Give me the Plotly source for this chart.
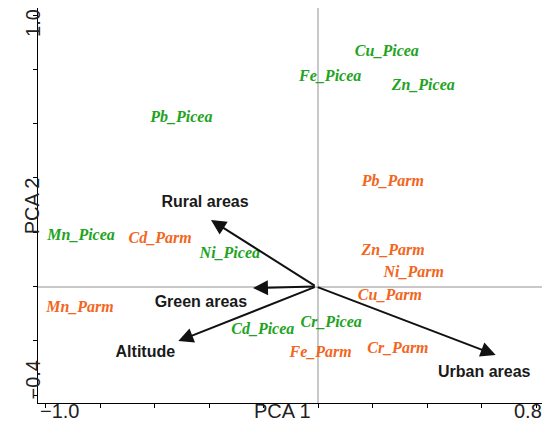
import plotly.graph_objects as go

# sample scores (PCA 1, PCA 2)
picea_labels = ["Cu_Picea", "Fe_Picea", "Zn_Picea", "Pb_Picea",
                "Mn_Picea", "Ni_Picea", "Cd_Picea", "Cr_Picea"]
picea_x = [0.2525, 0.0445, 0.386, -0.502, -0.870, -0.324, -0.203, 0.048]
picea_y = [0.865, 0.773, 0.740, 0.620, 0.186, 0.120, -0.160, -0.136]

parm_labels = ["Pb_Parm", "Cd_Parm", "Zn_Parm", "Ni_Parm",
               "Cu_Parm", "Mn_Parm", "Fe_Parm", "Cr_Parm"]
parm_x = [0.2745, -0.580, 0.2755, 0.351, 0.2636, -0.874, 0.0096, 0.293]
parm_y = [0.386, 0.175, 0.132, 0.0486, -0.034, -0.080, -0.246, -0.231]

# environmental vectors
vec_names = ["Rural areas", "Green areas", "Altitude", "Urban areas"]
vec_x = [-0.393, -0.239, -0.513, 0.652]
vec_y = [0.245, -0.0055, -0.201, -0.252]
vec_label_x = [-0.415, -0.430, -0.634, 0.610]
vec_label_y = [0.308, -0.060, -0.245, -0.3175]
origin = (-0.007, 0.0)

x_ticks = [-1.0, -0.8, -0.6, -0.4, -0.2, 0.0, 0.2, 0.4, 0.6, 0.8]
y_ticks = [-0.4, -0.2, 0.0, 0.2, 0.4, 0.6, 0.8, 1.0]

GREEN = "#22a322"
ORANGE = "#f2661e"
species_font = dict(family="Liberation Serif, Times New Roman, serif", size=16)

fig = go.Figure()

fig.add_trace(go.Scatter(
    x=picea_x, y=picea_y, text=picea_labels, mode="text",
    textposition="middle center",
    textfont=dict(color=GREEN, weight="bold", style="italic", **species_font),
    hoverinfo="skip", showlegend=False))

fig.add_trace(go.Scatter(
    x=parm_x, y=parm_y, text=parm_labels, mode="text",
    textposition="middle center",
    textfont=dict(color=ORANGE, weight="bold", style="italic", **species_font),
    hoverinfo="skip", showlegend=False))

# arrow labels
fig.add_trace(go.Scatter(
    x=vec_label_x, y=vec_label_y, text=vec_names, mode="text",
    textposition="middle center",
    textfont=dict(family="Liberation Sans, Arial, sans-serif", size=16,
                  color="#1a1a1a", weight="bold"),
    hoverinfo="skip", showlegend=False))

annotations = []
for vx, vy in zip(vec_x, vec_y):
    annotations.append(dict(
        x=vx, y=vy, ax=origin[0], ay=origin[1],
        xref="x", yref="y", axref="x", ayref="y",
        text="", showarrow=True, arrowhead=2, arrowsize=1.5,
        arrowwidth=2, arrowcolor="#111111", standoff=0))

axis_font = dict(family="Liberation Sans, Arial, sans-serif", size=20, color="#222222")
# end tick labels and axis titles, placed like the original
annotations += [
    dict(x=x_ticks[0], y=-0.053, xref="x", yref="paper", text="−1.0",
         showarrow=False, xshift=14, font=axis_font),
    dict(x=x_ticks[-1], y=-0.053, xref="x", yref="paper", text="0.8",
         showarrow=False, xshift=-8, font=axis_font),
    dict(x=0.486, y=-0.053, xref="paper", yref="paper", text="PCA 1",
         showarrow=False, font=axis_font),
    dict(x=-0.036, y=y_ticks[-1], xref="paper", yref="y", text="1.0",
         showarrow=False, yshift=-8, textangle=-90, font=axis_font),
    dict(x=-0.035, y=y_ticks[0], xref="paper", yref="y", text="−0.4",
         showarrow=False, yshift=15, textangle=-90, font=axis_font),
    dict(x=-0.038, y=0.5, xref="paper", yref="paper", text="PCA 2",
         showarrow=False, textangle=-90, font=axis_font),
]

axis_common = dict(
    showline=True, linecolor="black", linewidth=1, mirror=True,
    ticks="outside", ticklen=4, tickwidth=1, tickcolor="black",
    showgrid=False, zeroline=True, zerolinecolor="#c8c8c8", zerolinewidth=1.5,
    automargin=False,
)

# the page body adds an 8px margin, so the figure is 8px smaller than the window
fig.update_layout(
    width=542, height=430,
    margin=dict(l=30, r=8, t=0, b=35),
    plot_bgcolor="white", paper_bgcolor="white",
    xaxis=dict(range=[-1.028, 0.822], tickvals=x_ticks,
               ticktext=[""] * len(x_ticks), **axis_common),
    yaxis=dict(range=[-0.429, 1.026], tickvals=y_ticks,
               ticktext=[""] * len(y_ticks), **axis_common),
    annotations=annotations,
)

fig.write_html("out.html")
